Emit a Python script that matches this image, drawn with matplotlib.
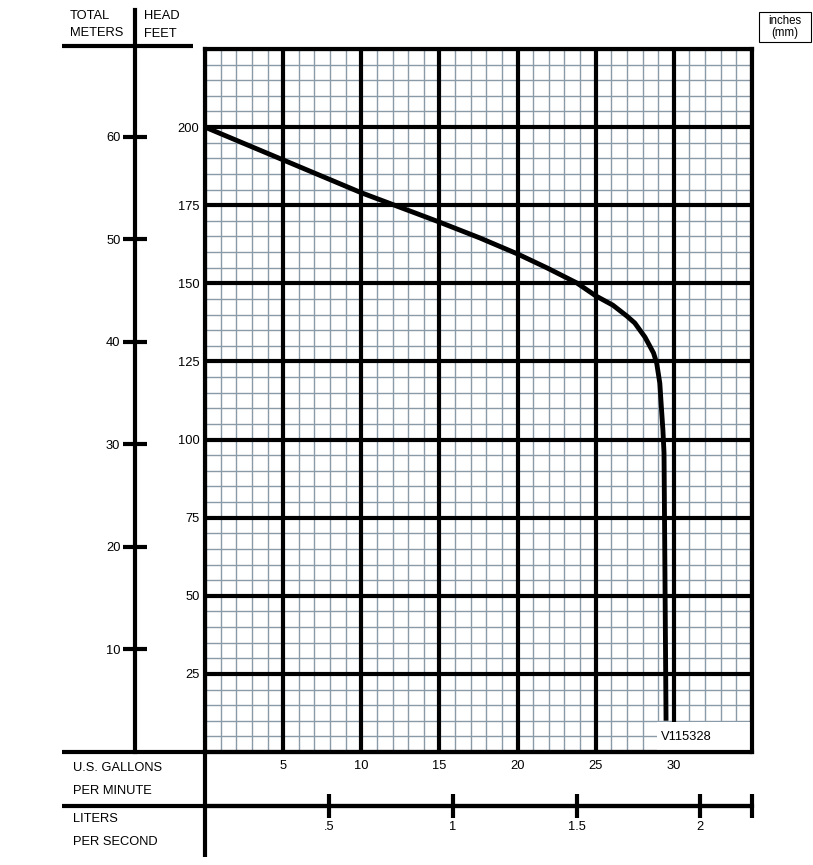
import matplotlib

matplotlib.use("Agg")

import matplotlib.pyplot as plt
from matplotlib.patches import Rectangle

plt.rcParams["font.family"] = ["Liberation Sans", "DejaVu Sans"]

# pump curve: flow in US gpm, total head in feet
gpm = [0, 5, 10, 15, 17.6, 20, 21.9, 23.8, 25, 26.1, 27, 27.5, 28.15, 28.7,
       28.9, 29.1, 29.2, 29.3, 29.37, 29.43, 29.5]
head_ft = [200, 189.5, 179, 169.6, 164.5, 159.4, 154.9, 150.1, 146, 143, 139.5,
           137.3, 132.8, 127.7, 124.5, 118.1, 110.4, 103, 95.7, 57, 10]

gpm_ticks = [0, 5, 10, 15, 20, 25, 30, 35]
ft_ticks = [0, 25, 50, 75, 100, 125, 150, 175, 200, 225]
m_ticks = [10, 20, 30, 40, 50, 60]
lps_ticks = [0.5, 1, 1.5, 2]
lps_labels = [".5", "1", "1.5", "2"]

GPM_MAX = 35
FT_MAX = 225
FT_TO_M = 0.3048
GPM_TO_LPS = 0.0630902

W, H = 813, 865
MINOR = "#8b9aa7"
LW = 3
FS = 9.3


def box(x0, y0, x1, y1):
    # pixel box, origin top left -> figure fraction rect
    return [x0 / W, 1 - y1 / H, (x1 - x0) / W, (y1 - y0) / H]


fig = plt.figure(figsize=(W / 100, H / 100), dpi=100)

# overlay in pixel coordinates for frame lines and captions
lay = fig.add_axes([0, 0, 1, 1])
lay.set_xlim(0, W)
lay.set_ylim(H, 0)
lay.axis("off")

lay.plot([62, 193], [46, 46], color="black", lw=LW, solid_capstyle="butt")
lay.plot([62, 752], [752, 752], color="black", lw=LW, solid_capstyle="butt")
lay.plot([62, 752], [806, 806], color="black", lw=LW, solid_capstyle="butt")
lay.plot([205, 205], [752, 857], color="black", lw=LW, solid_capstyle="butt")

txt = dict(fontsize=FS, va="center", ha="left")
lay.text(70, 16, "TOTAL", **txt)
lay.text(70, 33, "METERS", **txt)
lay.text(144, 16, "HEAD", **txt)
lay.text(144, 34, "FEET", **txt)
lay.text(73, 768, "U.S. GALLONS", **txt)
lay.text(73, 791, "PER MINUTE", **txt)
lay.text(73, 819, "LITERS", **txt)
lay.text(73, 842, "PER SECOND", **txt)
lay.add_patch(Rectangle((759, 12), 52, 30, facecolor="white", edgecolor="black", lw=0.8))
lay.text(785, 21, "inches", fontsize=8.3, ha="center", va="center")
lay.text(785, 33, "(mm)", fontsize=8.3, ha="center", va="center")

# main grid
ax = fig.add_axes(box(205, 49, 752, 752))
ax.set_xlim(0, GPM_MAX)
ax.set_ylim(0, FT_MAX)
ax.set_xticks(gpm_ticks)
ax.set_xticklabels(["" if v in (0, GPM_MAX) else str(v) for v in gpm_ticks])
ax.set_xticks([v for v in range(GPM_MAX + 1) if v % 5], minor=True)
ax.set_yticks(ft_ticks)
ax.set_yticklabels(["" if v in (0, FT_MAX) else str(v) for v in ft_ticks])
ax.set_yticks([v for v in range(0, FT_MAX + 1, 5) if v % 25], minor=True)
ax.set_axisbelow(True)
ax.grid(which="minor", color=MINOR, lw=1)
ax.vlines(gpm_ticks, 0, FT_MAX, color="black", lw=LW, zorder=0.8)
ax.hlines(ft_ticks, 0, GPM_MAX, color="black", lw=LW, zorder=0.8)
ax.tick_params(which="both", length=0, labelsize=FS)
ax.tick_params(axis="x", pad=6)
ax.tick_params(axis="y", pad=4)
for s in ax.spines.values():
    s.set_linewidth(LW)

# white label box in the lower right corner
ax.add_patch(Rectangle((28.95, 0), GPM_MAX - 28.95, 9.6, facecolor="white",
                       edgecolor="none", zorder=1))
ax.text(29.2, 4.8, "V115328", fontsize=FS, ha="left", va="center", zorder=4)

ax.plot(gpm, head_ft, color="black", lw=3.5, zorder=3,
        solid_joinstyle="round", solid_capstyle="butt")

# meters scale
axm = fig.add_axes(box(135, 10, 136, 752))
axm.set_ylim(0, FT_MAX * FT_TO_M * (752 - 10) / (752 - 49))
axm.set_yticks(m_ticks)
axm.set_xticks([])
axm.patch.set_visible(False)
for k in ("top", "right", "bottom"):
    axm.spines[k].set_visible(False)
axm.spines["left"].set_linewidth(LW)
axm.tick_params(axis="y", direction="inout", length=17, width=LW, pad=2, labelsize=FS)

# liters per second scale
axl = fig.add_axes(box(205, 805, 752, 806))
lps_max = GPM_MAX * GPM_TO_LPS
axl.set_xlim(0, lps_max)
axl.set_xticks(lps_ticks + [lps_max])
axl.set_xticklabels(lps_labels + [""])
axl.set_yticks([])
axl.patch.set_visible(False)
for k in ("top", "right", "left"):
    axl.spines[k].set_visible(False)
axl.spines["bottom"].set_linewidth(LW)
axl.tick_params(axis="x", direction="inout", length=17, width=LW, pad=2, labelsize=FS)

fig.savefig("out.png", dpi=100)
